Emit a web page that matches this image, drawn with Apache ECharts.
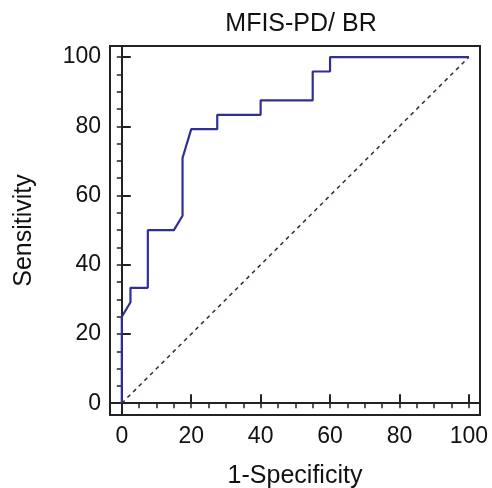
<!DOCTYPE html>
<html>
<head>
<meta charset="utf-8">
<script src="https://cdn.jsdelivr.net/npm/echarts@6/dist/echarts.min.js"></script>
<style>html,body{margin:0;padding:0;background:#fff}#c{width:492px;height:488px}</style>
</head>
<body>
<div id="c"></div>
<script>
const title = "MFIS-PD/ BR";
const xName = "1-Specificity";
const yName = "Sensitivity";
// ROC curve points: 1-Specificity (%), Sensitivity (%)
const rocX = [0, 0, 2.5, 2.5, 7.5, 7.5, 15, 17.5, 17.5, 20, 27.5, 27.5, 40, 40, 55, 55, 60, 60, 100];
const rocY = [0, 25, 29.17, 33.33, 33.33, 50, 50, 54.17, 70.83, 79.17, 79.17, 83.33, 83.33, 87.5, 87.5, 95.83, 95.83, 100, 100];
const refX = [0, 100];
const refY = [0, 100];
const majorTicks = [0, 20, 40, 60, 80, 100];
const minorTicks = [0,5,10,15,20,25,30,35,40,45,50,55,60,65,70,75,80,85,90,95,100];

const axMin = -3.4, axMax = 103.2;
const font = 'Liberation Sans, Arial, sans-serif';
const dark = '#222';

function mkAxis(isX, major, show) {
  const a = {
    type: 'value', min: axMin, max: axMax,
    axisLine: { show: show, lineStyle: { color: dark, width: 2 } },
    splitLine: { show: false },
    axisTick: { show: true, inside: true, length: major ? 9 : 5,
      customValues: major ? majorTicks : minorTicks,
      lineStyle: { color: dark, width: major ? 2 : 1.5 } },
    axisLabel: { show: major, customValues: majorTicks, color: '#111',
      fontFamily: font, fontSize: 23, margin: isX ? 10 : 9 }
  };
  if (major) {
    a.name = isX ? xName : yName;
    a.nameLocation = 'middle';
    a.nameGap = isX ? 49 : 73;
    a.nameTextStyle = { fontFamily: font, fontSize: 25, color: '#111' };
  }
  return a;
}

const chart = echarts.init(document.getElementById('c'), null, { renderer: 'canvas' });
chart.setOption({
  animation: false,
  backgroundColor: '#fff',
  title: { text: title, left: 296, textAlign: 'center', top: 7,
    textStyle: { fontFamily: font, fontSize: 25, fontWeight: 'normal', color: '#111' } },
  grid: { left: 110, right: 12, top: 46, bottom: 73, show: true, containLabel: false,
    outerBoundsMode: 'none',
    borderColor: dark, borderWidth: 2, backgroundColor: 'transparent' },
  xAxis: [mkAxis(true, true, true), mkAxis(true, false, false)],
  yAxis: [mkAxis(false, true, true), mkAxis(false, false, false)],
  series: [
    { type: 'line', xAxisIndex: 0, yAxisIndex: 0, symbol: 'none',
      data: refX.map((x, i) => [x, refY[i]]),
      lineStyle: { color: '#3e2626', width: 1.5, type: [4, 4] } },
    { type: 'line', xAxisIndex: 0, yAxisIndex: 0, symbol: 'none',
      data: rocX.map((x, i) => [x, rocY[i]]),
      lineStyle: { color: '#2f2f96', width: 2.2 } }
  ]
});
</script>
</body>
</html>
